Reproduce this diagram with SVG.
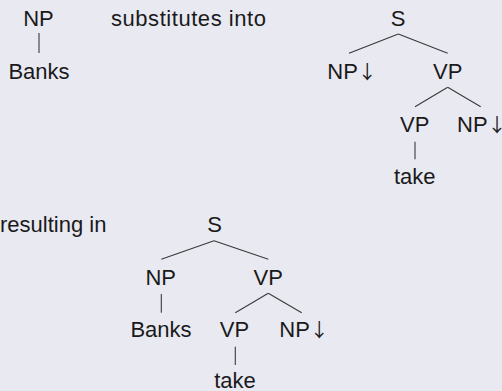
<svg xmlns="http://www.w3.org/2000/svg" width="502" height="391" viewBox="0 0 502 391">
<style>
text{font-family:"Liberation Sans",Arial,sans-serif;font-size:22px;fill:#1a1a1a}
.m{text-anchor:middle}
.a{font-family:"Noto Sans CJK JP","DejaVu Sans",sans-serif;font-size:19px}
line{stroke:#3a3a3a;stroke-width:1.1}
</style>
<rect width="502" height="391" fill="#e9e9f2"/>
<g id="connectors">
<line x1="39" y1="33" x2="39" y2="53"/>
<line x1="398.3" y1="34" x2="349" y2="53.3"/>
<line x1="398.3" y1="34" x2="447.7" y2="53.3"/>
<line x1="447.7" y1="87.3" x2="415" y2="106.7"/>
<line x1="447.7" y1="87.3" x2="480.7" y2="106.7"/>
<line x1="415" y1="141.7" x2="415" y2="159.3"/>
<line x1="214" y1="240.7" x2="161.3" y2="259.3"/>
<line x1="214" y1="240.7" x2="268.3" y2="259.3"/>
<line x1="161.3" y1="294" x2="161.3" y2="312.7"/>
<line x1="268.3" y1="293.3" x2="235.3" y2="312.7"/>
<line x1="268.3" y1="293.3" x2="301.7" y2="312.7"/>
<line x1="235.3" y1="346.7" x2="235.3" y2="365"/>
</g>
<g id="label-substitutes"><text x="111" y="26" textLength="155">substitutes into</text></g>
<g id="label-resulting"><text x="0" y="232.3">resulting in</text></g>
<g id="t1-NP"><text class="m" x="38.5" y="26">NP</text></g>
<g id="t1-Banks"><text class="m" x="39" y="79">Banks</text></g>
<g id="t2-S"><text class="m" x="398" y="26">S</text></g>
<g id="t2-NP"><text x="327.3" y="79">NP<tspan class="a">↓&#xFE0E;</tspan></text></g>
<g id="t2-VP"><text class="m" x="447.7" y="79">VP</text></g>
<g id="t2-VP2"><text class="m" x="414.7" y="131.7">VP</text></g>
<g id="t2-NP2"><text x="457" y="131.7">NP<tspan class="a">↓&#xFE0E;</tspan></text></g>
<g id="t2-take"><text class="m" x="414.7" y="184.3">take</text></g>
<g id="t3-S"><text class="m" x="214.5" y="232.3">S</text></g>
<g id="t3-NP"><text class="m" x="160.7" y="285">NP</text></g>
<g id="t3-VP"><text class="m" x="268.3" y="285">VP</text></g>
<g id="t3-Banks"><text class="m" x="161" y="337.3">Banks</text></g>
<g id="t3-VP2"><text class="m" x="234.5" y="337.3">VP</text></g>
<g id="t3-NP2"><text x="279.3" y="337.3">NP<tspan class="a">↓&#xFE0E;</tspan></text></g>
<g id="t3-take"><text class="m" x="235" y="388">take</text></g>
</svg>
